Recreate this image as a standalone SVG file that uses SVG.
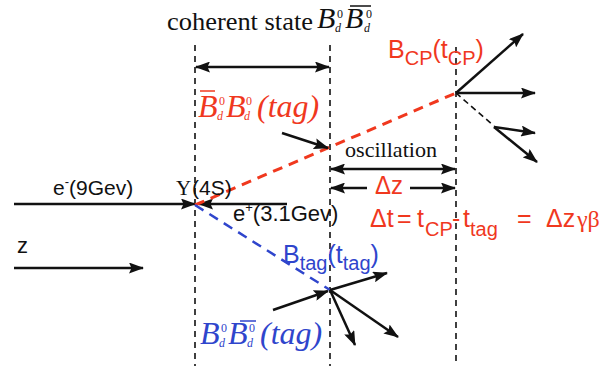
<svg xmlns="http://www.w3.org/2000/svg" width="602" height="366" viewBox="0 0 602 366">
<defs>
<style>
.sans{font-family:"Liberation Sans",Arial,sans-serif}
.serif{font-family:"Liberation Serif","Times New Roman",serif}
.mi{font-family:"Liberation Serif","Times New Roman",serif;font-style:italic}
.red{fill:#f0381e}
.blue{fill:#2f45cc}
.blk{fill:#111}
.vdash{stroke:#111;stroke-width:1.6;stroke-dasharray:6 5;fill:none}
.arr{stroke:#111;stroke-width:2.5;fill:none}
</style>
<marker id="ah" viewBox="0 0 15 11" refX="14" refY="5.5" markerWidth="15" markerHeight="11" markerUnits="userSpaceOnUse" orient="auto-start-reverse">
<path d="M0,0 L15,5.5 L0,11 L2.5,5.5 z" fill="#111"/>
</marker>
</defs>
<rect width="602" height="366" fill="#fff"/>

<g id="connectors">
<line class="vdash" x1="195" y1="45" x2="195" y2="366"/>
<line class="vdash" x1="330" y1="45" x2="330" y2="366"/>
<line class="vdash" x1="456" y1="47" x2="456" y2="366"/>
<line class="arr" x1="196" y1="67" x2="329" y2="67" marker-start="url(#ah)" marker-end="url(#ah)"/>
<line class="arr" x1="331" y1="169" x2="455" y2="169" marker-start="url(#ah)" marker-end="url(#ah)"/>
<line class="arr" x1="367" y1="188" x2="331" y2="188" marker-end="url(#ah)"/>
<line class="arr" x1="410" y1="188" x2="455" y2="188" marker-end="url(#ah)"/>
<line class="arr" x1="14" y1="204" x2="195" y2="204" marker-end="url(#ah)"/>
<line class="arr" x1="287" y1="204" x2="199" y2="204" marker-end="url(#ah)"/>
<line class="arr" x1="14" y1="268" x2="143" y2="268" marker-end="url(#ah)"/>
<line x1="195" y1="205" x2="456" y2="93" stroke="#f0381e" stroke-width="3" stroke-dasharray="10 7"/>
<line x1="195" y1="205" x2="330" y2="290" stroke="#2f45cc" stroke-width="2.5" stroke-dasharray="10 7"/>
<line class="arr" x1="282" y1="133" x2="328" y2="148" marker-end="url(#ah)"/>
<line class="arr" x1="456" y1="93" x2="523" y2="34" marker-end="url(#ah)"/>
<line class="arr" x1="456" y1="93" x2="535" y2="93" marker-end="url(#ah)"/>
<line x1="456" y1="93" x2="494" y2="126" stroke="#111" stroke-width="1.6" stroke-dasharray="6 4"/>
<line class="arr" x1="494" y1="127" x2="535" y2="133" marker-end="url(#ah)"/>
<line class="arr" x1="494" y1="127" x2="537" y2="162" marker-end="url(#ah)"/>
<line class="arr" x1="273" y1="310" x2="328" y2="291" marker-end="url(#ah)"/>
<line class="arr" x1="330" y1="290" x2="387" y2="273" marker-end="url(#ah)"/>
<line class="arr" x1="330" y1="290" x2="355" y2="345" marker-end="url(#ah)"/>
<line class="arr" x1="330" y1="290" x2="398" y2="337" marker-end="url(#ah)"/>
</g>

<g id="coherent-label">
<text class="serif blk" x="167" y="30" font-size="26" textLength="146" lengthAdjust="spacingAndGlyphs">coherent state</text>
<text class="mi blk" font-size="30"><tspan x="317" y="28">B</tspan><tspan x="345" y="28">B</tspan></text>
<text class="serif blk" font-size="12"><tspan x="337" y="18">0</tspan><tspan x="366" y="18">0</tspan></text>
<text class="mi blk" font-size="12"><tspan x="335" y="32">d</tspan><tspan x="364" y="32">d</tspan></text>
<line x1="350" y1="6" x2="371" y2="6" stroke="#111" stroke-width="1.5"/>
</g>

<g id="bcp-label">
<text class="sans red" font-size="25"><tspan x="388" y="58">B</tspan><tspan font-size="20" dy="7">CP</tspan><tspan dy="-7">(t</tspan><tspan font-size="20" dy="7">CP</tspan><tspan dy="-7">)</tspan></text>
</g>

<g id="red-tag-label">
<line x1="200" y1="91" x2="215" y2="91" stroke="#f0381e" stroke-width="1.5"/>
<text class="mi red" font-size="32"><tspan x="198" y="117">B</tspan><tspan x="226" y="117">B</tspan></text>
<text class="serif red" font-size="12"><tspan x="219" y="105">0</tspan><tspan x="246" y="105">0</tspan></text>
<text class="mi red" font-size="12"><tspan x="217" y="120">d</tspan><tspan x="244" y="120">d</tspan></text>
<text class="mi red" x="257" y="117" font-size="32">(tag)</text>
</g>

<g id="oscillation-label">
<text class="serif blk" x="345" y="157" font-size="21" textLength="92" lengthAdjust="spacingAndGlyphs">oscillation</text>
</g>

<g id="dz-label">
<text class="sans red" x="375" y="194" font-size="25" textLength="28" lengthAdjust="spacingAndGlyphs">Δz</text>
</g>

<g id="dt-label">
<text class="sans red" font-size="25"><tspan x="370" y="227">Δt</tspan><tspan x="397" y="227">=</tspan><tspan x="417" y="227">t</tspan><tspan x="425" y="236" font-size="20">CP</tspan><tspan x="452" y="227">-</tspan><tspan x="463" y="227">t</tspan><tspan x="470" y="236" font-size="20">tag</tspan><tspan x="517" y="227">=</tspan><tspan x="546" y="227">Δz</tspan></text>
<text class="serif red" x="577" y="227" font-size="24">γβ</text>
</g>

<g id="beam-labels">
<text class="sans blk" font-size="21"><tspan x="53" y="195">e</tspan><tspan font-size="13" dy="-9">-</tspan><tspan dy="9">(9Gev)</tspan></text>
<text class="serif blk" x="176" y="195" font-size="21">Υ</text>
<text class="sans blk" x="192" y="195" font-size="21">(4S)</text>
<text class="sans blk" font-size="22"><tspan x="233" y="221">e</tspan><tspan font-size="13" dy="-9">+</tspan><tspan dy="9">(3.1Gev)</tspan></text>
<text class="sans blk" x="17" y="253" font-size="22">z</text>
</g>

<g id="btag-label">
<text class="sans blue" font-size="25"><tspan x="283" y="263">B</tspan><tspan font-size="20" dy="7">tag</tspan><tspan dy="-7">(t</tspan><tspan font-size="20" dy="7">tag</tspan><tspan dy="-7">)</tspan></text>
</g>

<g id="blue-tag-label">
<line x1="240" y1="321" x2="256" y2="321" stroke="#2f45cc" stroke-width="1.5"/>
<text class="mi blue" font-size="32"><tspan x="200" y="344">B</tspan><tspan x="228" y="344">B</tspan></text>
<text class="serif blue" font-size="12"><tspan x="221" y="332">0</tspan><tspan x="249" y="332">0</tspan></text>
<text class="mi blue" font-size="12"><tspan x="219" y="347">d</tspan><tspan x="247" y="347">d</tspan></text>
<text class="mi blue" x="260" y="344" font-size="32">(tag)</text>
</g>
</svg>
